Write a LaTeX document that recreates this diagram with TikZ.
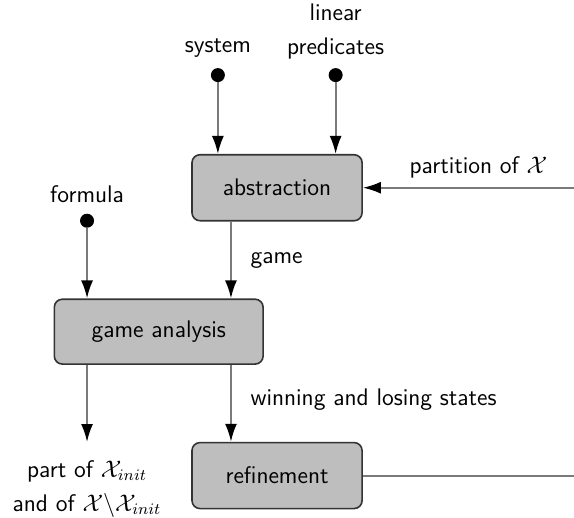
\documentclass[tikz,border=0pt]{standalone}
\usepackage{amsmath}
\usepackage{amssymb}
\usepackage{xcolor}
\usepackage{tikz}
\usetikzlibrary{arrows.meta,positioning,calc}

\definecolor{boxgray}{HTML}{BEBEBE}
\definecolor{linegray}{HTML}{7A7A7A}

\begin{document}
\begin{tikzpicture}[
    font=\sffamily\fontsize{12pt}{14pt}\selectfont,
    stage/.style={rectangle, draw=black!80, fill=boxgray, rounded corners=4pt, line width=0.8pt, minimum width=2.99cm, minimum height=1.16cm, align=center},
    src/.style={circle, fill=black, inner sep=0pt, minimum size=7pt},
    arrow/.style={-{Latex[length=9pt,width=6pt,color=black]}, draw=linegray, line width=1pt},
    flow/.style={draw=linegray, line width=1pt}
]
\useasboundingbox (0,0) rectangle (10.09,-9.10);

% stages
\node[stage] (abstraction) at (4.87, -3.30) {abstraction};
\node[stage, minimum width=3.67cm, minimum height=1.14cm] (analysis) at (2.79, -5.83) {game analysis};
\node[stage] (refinement) at (4.87, -8.36) {refinement};

% inputs
\node[src] (sysdot) at (3.83, -1.32) {};
\node[src] (preddot) at (5.90, -1.32) {};
\node[src] (formdot) at (1.53, -3.88) {};

\node (system) at (3.83, -0.84) {system};
\node[align=center] (preds) at (5.90, -0.55) {linear\\[3pt]predicates};
\node (formula) at (1.53, -3.41) {formula};

\coordinate (gcol) at (4.06, 0);
\coordinate (loopx) at (10.30, 0);

\draw[arrow] (sysdot) -- (abstraction.north -| sysdot);
\draw[arrow] (preddot) -- (abstraction.north -| preddot);
\draw[arrow] (formdot) -- (analysis.north -| formdot);

\draw[arrow] (abstraction.south -| gcol) -- node[right, xshift=6pt] (game) {game} (analysis.north -| gcol);
\draw[arrow] (analysis.south -| gcol) -- node[right, xshift=6pt, pos=0.45] (states) {winning and losing states} (refinement.north -| gcol);

% output
\node[align=center, anchor=north] (result) at (1.53, -7.97) {part of $\mathcal{X}_{init}$\\[3pt]and of $\mathcal{X}\backslash\mathcal{X}_{init}$};
\draw[arrow] (analysis.south -| formdot) -- (formdot |- 0,-7.77);

% feedback loop
\draw[flow] (refinement.east) -- (refinement.east -| loopx) -- (abstraction.east -| loopx);
\draw[arrow] (abstraction.east -| loopx) -- (abstraction.east);
\node (partition) at (8.41, -2.95) {partition of $\mathcal{X}$};

\end{tikzpicture}
\end{document}
